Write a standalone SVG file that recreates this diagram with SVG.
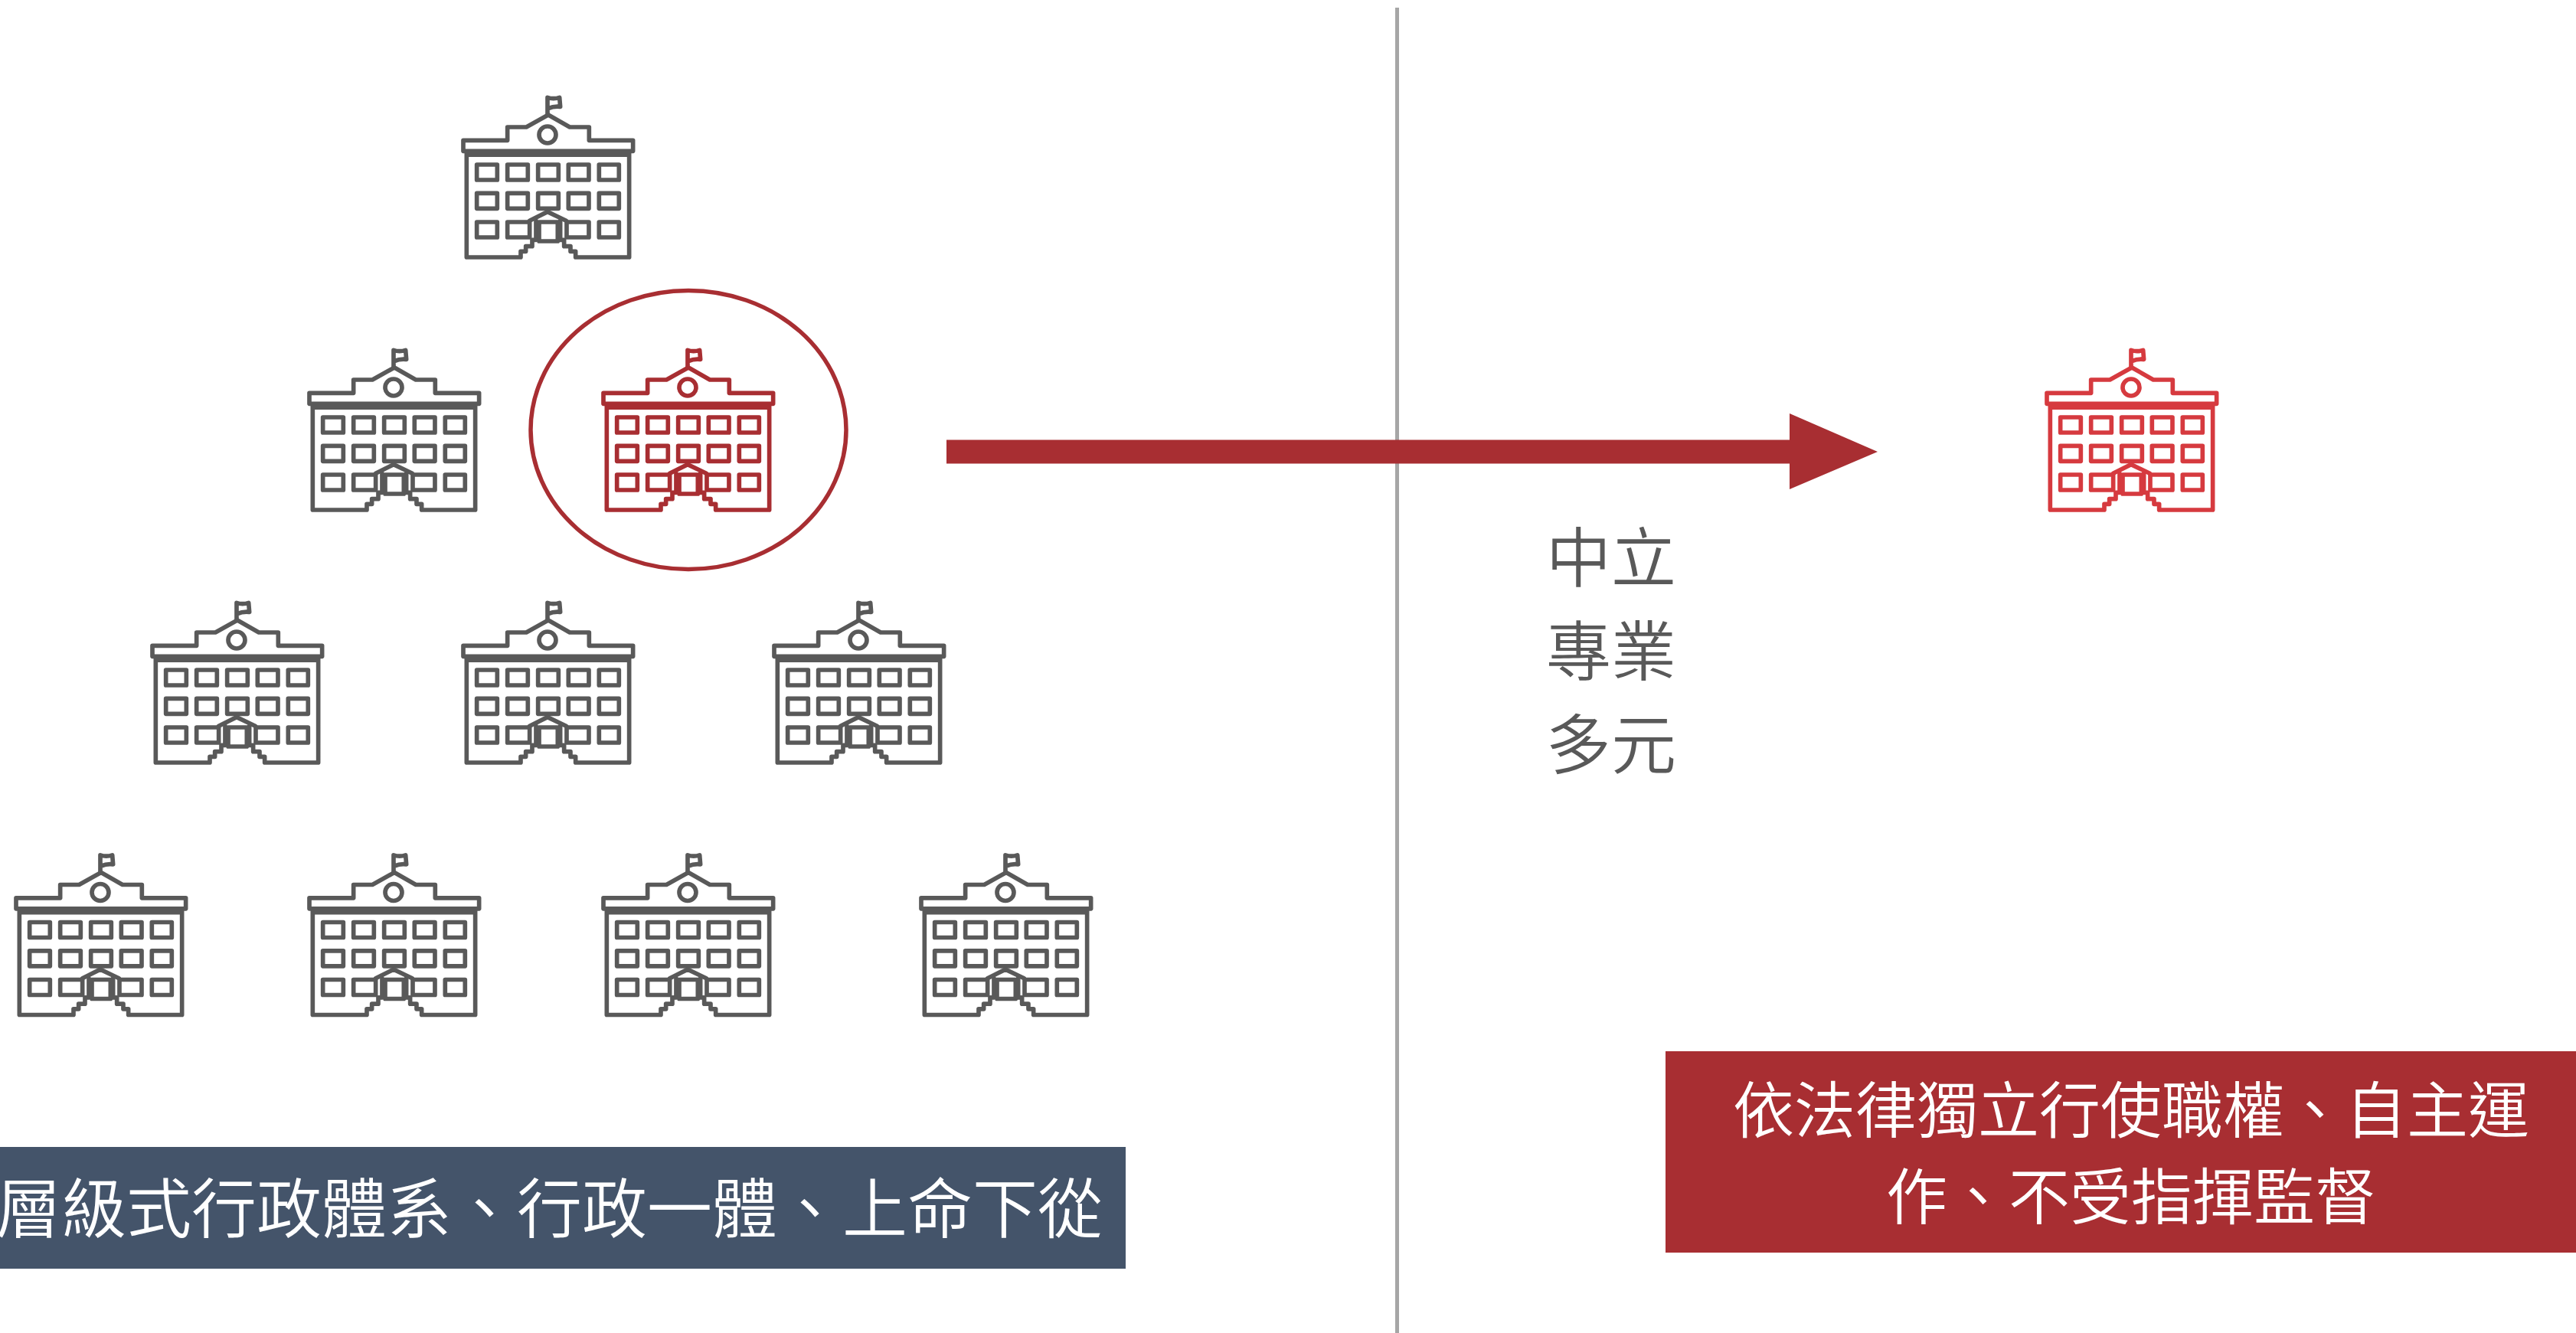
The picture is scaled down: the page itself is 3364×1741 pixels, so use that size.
<svg xmlns="http://www.w3.org/2000/svg" width="3364" height="1741" viewBox="0 0 3364 1741">
<style>
.ic{fill:none;stroke-width:17;stroke-linejoin:round;stroke-linecap:round}
.t{font-family:"Noto Sans CJK TC","Noto Sans CJK JP",sans-serif;font-weight:350}
.w{fill:#fff}.g{fill:#595959}
</style>
<defs>
<g id="school">
<path d="M88 270V678H300V655H320V635H345V610H360V535M725 270V678H515V655H495V635H470V610H455V535"/>
<path d="M248 168H322L408 120L492 168H568V220H740V262H75V220H248Z"/>
<path d="M85 273H725" stroke-width="24" stroke-linecap="butt"/>
<circle cx="405" cy="198" r="33"/>
<path d="M405 120V52Q428 60 452 52L455 88Q430 85 408 95"/>
<path d="M128 315h80v60h-80zM248 315h80v60h-80zM368 315h80v60h-80zM487 315h80v60h-80zM607 315h78v60h-78zM128 427h80v60h-80zM248 427h80v60h-80zM368 427h80v60h-80zM487 427h80v60h-80zM607 427h78v60h-78zM128 540h80v60h-80zM248 540h87v60h-87zM480 540h87v60h-87zM607 540h78v60h-78z"/>
<path d="M335 535L405 500L478 535M372 540h73v75h-73z"/>
</g>
</defs>
<g id="divider"><rect x="1822" y="10" width="5" height="1731" fill="#a6a6a6"/></g>
<g id="b1" class="ic" stroke="#595959" transform="translate(580 110) scale(.3333)"><use href="#school"/></g>
<g id="b2" class="ic" stroke="#595959" transform="translate(379 440) scale(.3333)"><use href="#school"/></g>
<g id="b3" class="ic" stroke="#a82e32" transform="translate(763 440) scale(.3333)"><use href="#school"/></g>
<g id="b4" class="ic" stroke="#595959" transform="translate(174 770) scale(.3333)"><use href="#school"/></g>
<g id="b5" class="ic" stroke="#595959" transform="translate(580 770) scale(.3333)"><use href="#school"/></g>
<g id="b6" class="ic" stroke="#595959" transform="translate(986 770) scale(.3333)"><use href="#school"/></g>
<g id="b7" class="ic" stroke="#595959" transform="translate(-4 1099.5) scale(.3333)"><use href="#school"/></g>
<g id="b8" class="ic" stroke="#595959" transform="translate(379 1099.5) scale(.3333)"><use href="#school"/></g>
<g id="b9" class="ic" stroke="#595959" transform="translate(763 1099.5) scale(.3333)"><use href="#school"/></g>
<g id="b10" class="ic" stroke="#595959" transform="translate(1178 1099.5) scale(.3333)"><use href="#school"/></g>
<g id="b11" class="ic" stroke="#d63a3f" transform="translate(2648 440) scale(.3333)"><use href="#school"/></g>
<g id="highlight"><ellipse cx="899" cy="561.5" rx="206" ry="182" fill="none" stroke="#a82e32" stroke-width="5.5"/></g>
<g id="connectors"><polygon points="1236,574.5 2337,574.5 2337,540 2452,590 2337,639 2337,605.5 1236,605.5" fill="#a82e32"/></g>
<g id="neutral" class="t g" font-size="85" text-anchor="middle">
<text x="2104" y="760">中立</text><text x="2104" y="882">專業</text><text x="2104" y="1004">多元</text></g>
<g id="left-label"><rect x="0" y="1498" width="1470" height="159" fill="#44546a"/>
<text class="t w" x="-5" y="1610" font-size="85">層級式行政體系、行政一體、上命下從</text></g>
<g id="right-label"><rect x="2175" y="1373" width="1189" height="263" fill="#a82e32"/>
<text class="t w" x="2783" y="1479" font-size="80" text-anchor="middle">依法律獨立行使職權、自主運</text>
<text class="t w" x="2783" y="1592" font-size="80" text-anchor="middle">作、不受指揮監督</text></g>
</svg>
